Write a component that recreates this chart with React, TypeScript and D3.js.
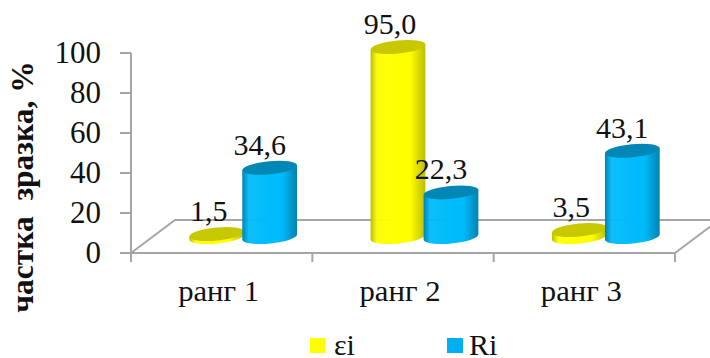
import React from "react";
import * as d3 from "d3";

const categories = ["ранг 1", "ранг 2", "ранг 3"];
const seriesNames = ["εi", "Ri"];
const epsilonValues = [1.5, 95.0, 3.5];
const rankValues = [34.6, 22.3, 43.1];
const yTicks = [0, 20, 40, 60, 80, 100];

const WIDTH = 710;
const HEIGHT = 358;
const FONT = "'Liberation Serif', 'Times New Roman', serif";
const AXIS = "#a6a6a6";
const TEXT = "#111111";

// 3D projection of the chart floor: columns stand back from the front edge.
const DEPTH_X = 44;
const DEPTH_Y = 33;
const COL_SHIFT_X = 21.5;
const COL_SHIFT_Y = 16;
const RX = 27.5;
const RY = 6.5;
const TILT = -5.5;

const palette = [
  { id: "yellow", edge: "#bdbd00", mid: "#ffff00", top: "#c8c800", swatch: "#ffff00" },
  { id: "blue", edge: "#0083b2", mid: "#00bbfb", top: "#0087b6", swatch: "#00b0f0" },
];

const x = d3.scaleBand<string>().domain(categories).range([131, 675]).paddingInner(0).paddingOuter(0);
const y = d3.scaleLinear().domain([0, 100]).range([253, 53]);
const inner = d3.scaleBand<string>().domain(seriesNames).range([-53, 53]).padding(0);

const fmt = (v: number) => v.toFixed(1).replace(".", ",");

function Cylinder({ cx, value, color }: { cx: number; value: number; color: (typeof palette)[number] }) {
  const topY = y(value) - COL_SHIFT_Y;
  const baseY = y(0) - COL_SHIFT_Y;
  const rad = (TILT * Math.PI) / 180;
  const dx = RX * Math.cos(rad);
  const dy = RX * Math.sin(rad);
  const side = `M${cx - dx},${topY - dy} L${cx + dx},${topY + dy} L${cx + dx},${baseY + dy} A${RX},${RY} ${TILT} 0 1 ${cx - dx},${baseY - dy} Z`;
  return (
    <g>
      <path d={side} fill={`url(#grad-${color.id})`} />
      <ellipse cx={cx} cy={topY} rx={RX} ry={RY} transform={`rotate(${TILT} ${cx} ${topY})`} fill={color.top} />
    </g>
  );
}

export default function App() {
  const xRight = x.range()[1];
  const xLeft = x.range()[0];
  const y0 = y(0);
  const axisTickX = [...categories.map((c) => x(c)!), xRight];
  const series = [epsilonValues, rankValues];
  return (
    <svg
      width={WIDTH}
      height={HEIGHT}
      viewBox={`0 0 ${WIDTH} ${HEIGHT}`}
      style={{ position: "fixed", left: 0, top: 0, background: "#fff" }}
      fontFamily={FONT}
      fill={TEXT}
    >
      <defs>
        {palette.map((c) => (
          <linearGradient key={c.id} id={`grad-${c.id}`} x1="0" x2="1" y1="0" y2="0">
            <stop offset="0" stopColor={c.edge} />
            <stop offset="0.12" stopColor={c.mid} stopOpacity={0.95} />
            <stop offset="0.55" stopColor={c.mid} />
            <stop offset="0.72" stopColor={c.mid} />
            <stop offset="1" stopColor={c.edge} />
          </linearGradient>
        ))}
      </defs>

      {/* floor outline */}
      <g stroke={AXIS} strokeWidth={2} fill="none">
        <path d={`M${xLeft},${y0} L${xLeft + DEPTH_X},${y0 - DEPTH_Y} L${xRight + DEPTH_X},${y0 - DEPTH_Y} L${xRight},${y0}`} />
        <path d={`M${xLeft},${y(100)} L${xLeft},${y0 + 9}`} />
        <path d={`M${xLeft},${y0} L${xRight},${y0}`} />
        {yTicks.map((t) => (
          <path key={t} d={`M${xLeft - 11},${y(t)} L${xLeft},${y(t)}`} />
        ))}
        {axisTickX.map((tx) => (
          <path key={tx} d={`M${tx},${y0} L${tx},${y0 + 9}`} />
        ))}
      </g>

      {yTicks.map((t) => (
        <text key={t} x={101} y={y(t) + 10} textAnchor="end" fontSize={31}>
          {t}
        </text>
      ))}

      {categories.map((c) => (
        <text
          key={c}
          x={x(c)! + x.bandwidth() / 2 - 3}
          y={301}
          textAnchor="middle"
          fontSize={30}
          textLength={81}
          lengthAdjust="spacingAndGlyphs"
        >
          {c}
        </text>
      ))}

      <text
        transform="translate(33,187) rotate(-90)"
        textAnchor="middle"
        fontSize={31.5}
        fontWeight="bold"
        style={{ whiteSpace: "pre" }}
      >
        {"частка  зразка, %"}
      </text>

      {/* columns, one category at a time so neighbours overlap left to right */}
      {categories.map((c, i) =>
        seriesNames.map((s, j) => (
          <Cylinder
            key={s + c}
            cx={x(c)! + x.bandwidth() / 2 + COL_SHIFT_X + inner(s)! + inner.bandwidth() / 2}
            value={series[j][i]}
            color={palette[j]}
          />
        ))
      )}

      {categories.map((c, i) =>
        seriesNames.map((s, j) => (
          <text
            key={s + c}
            x={x(c)! + x.bandwidth() / 2 + COL_SHIFT_X + inner(s)! + inner.bandwidth() / 2 - 8 - j * 2}
            y={y(series[j][i]) - COL_SHIFT_Y - 13}
            textAnchor="middle"
            fontSize={30}
          >
            {fmt(series[j][i])}
          </text>
        ))
      )}

      {/* legend */}
      <rect x={310} y={338} width={15} height={15} fill={palette[0].swatch} />
      <text x={334} y={355} fontSize={30}>{seriesNames[0]}</text>
      <rect x={447} y={338} width={16} height={15} fill={palette[1].swatch} />
      <text x={469} y={355} fontSize={30}>{seriesNames[1]}</text>
    </svg>
  );
}
